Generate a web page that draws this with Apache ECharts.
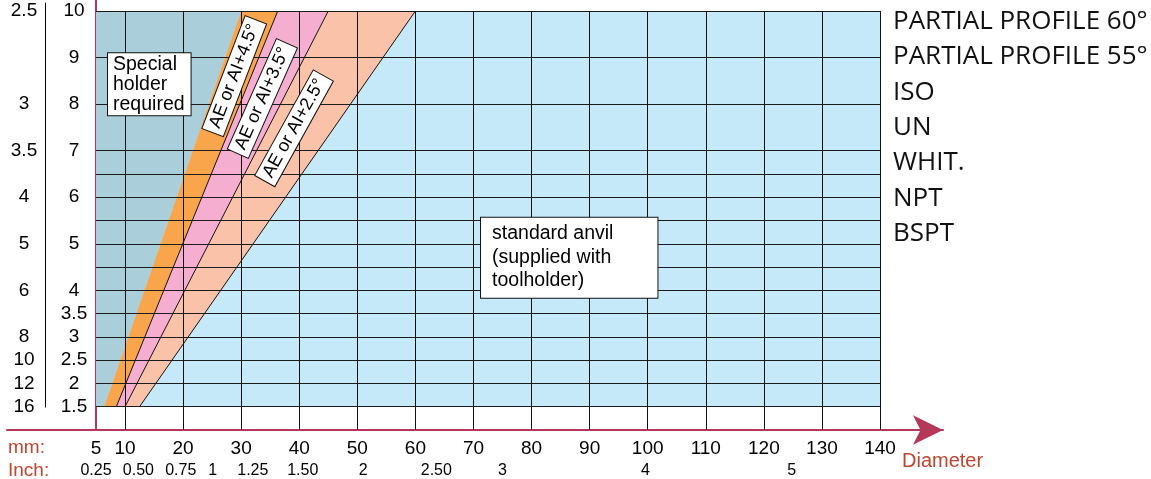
<!DOCTYPE html>
<html>
<head>
<meta charset="utf-8">
<script src="https://cdn.jsdelivr.net/npm/echarts@6/dist/echarts.min.js"></script>
<style>
html,body{margin:0;padding:0;background:#ffffff;}
#chart{width:1151px;height:479px;}
</style>
</head>
<body>
<div id="chart"></div>
<script>
// ---------------- data ----------------
const diameterSpan   = [5, 140];                 // mm, x extent of the chart
const pitchSpan      = [1.5, 10];                // mm pitch, y extent of the coloured field
const diameterGrid   = [10, 20, 30, 40, 50, 60, 70, 80, 90, 100, 110, 120, 130, 140];
const diameterLabels = [5, 10, 20, 30, 40, 50, 60, 70, 80, 90, 100, 110, 120, 130, 140];
const pitchGrid      = [1.5, 2, 2.5, 3, 3.5, 4, 4.5, 5, 5.5, 6, 6.5, 7, 8, 9, 10];
const pitchLabels    = [10, 9, 8, 7, 6, 5, 4, 3.5, 3, 2.5, 2, 1.5];
const tpiAt          = [10, 8, 7, 6, 5, 4, 3, 2.5, 2, 1.5];          // pitch value each TPI label sits on
const tpiLabels      = ['2.5', '3', '3.5', '4', '5', '6', '8', '10', '12', '16'];
const inchAt         = [5, 12.3, 19.6, 25.1, 32.0, 40.6, 51.0, 63.6, 75.0, 99.6, 124.8]; // mm value under each inch label
const inchLabels     = ['0.25', '0.50', '0.75', '1', '1.25', '1.50', '2', '2.50', '3', '4', '5'];
// boundary lines between zones: diameter (mm) at pitch 1.5 and at pitch 10
const boundaryAtBottom = [6.4, 8.5, 10, 12.5];
const boundaryAtTop    = [30, 36.3, 45, 60];
const zoneNames      = ['standard anvil', 'special holder', 'AE or AI+4.5°', 'AE or AI+3.5°', 'AE or AI+2.5°'];
const threadTypes    = ['PARTIAL PROFILE 60°', 'PARTIAL PROFILE 55°', 'ISO', 'UN', 'WHIT.', 'NPT', 'BSPT'];

// ---------------- styles / layout ----------------
const zoneColors = ['#c5e9f8', '#aacfdb', '#f9a54b', '#f5aed0', '#fbc2aa'];
const RED = '#b5385a';
const TXT_RED = '#c0452f';
const FONT = '"Liberation Sans", Arial, Helvetica, sans-serif';

// annotation anchors in data coordinates (layout)
const annotations = [
  { text: 'Special\nholder\nrequired', at: [7.07, 9.09], angle: 0, align: 'left', va: 'top',
    fontSize: 19.5, lineHeight: 20, padding: [1, 6, 1, 5] },
  { text: zoneNames[2], at: [28.8, 8.6], angle: 69, align: 'center', va: 'middle',
    fontSize: 18, lineHeight: 20, padding: [1, 5, 1, 5] },
  { text: zoneNames[3], at: [33.65, 8.12], angle: 66, align: 'center', va: 'middle',
    fontSize: 18, lineHeight: 20, padding: [1, 5, 1, 5] },
  { text: zoneNames[4], at: [39.1, 7.48], angle: 61, align: 'center', va: 'middle',
    fontSize: 18, lineHeight: 20, padding: [1, 5, 1, 5] },
  { text: 'standard anvil\n(supplied with\ntoolholder)', at: [71.3, 5.56], angle: 0, align: 'left', va: 'top',
    fontSize: 19.5, lineHeight: 23.7, padding: [4, 44, 5, 11] }
];

// ---------------- build zones from the data ----------------
const [dMin, dMax] = diameterSpan;
const [pMin, pMax] = pitchSpan;
const zones = [
  [[dMin, pMin], [dMax, pMin], [dMax, pMax], [dMin, pMax]],
  [[dMin, pMin], [boundaryAtBottom[0], pMin], [boundaryAtTop[0], pMax], [dMin, pMax]]
];
for (let i = 0; i < 3; i++) {
  zones.push([[boundaryAtBottom[i], pMin], [boundaryAtBottom[i + 1], pMin],
              [boundaryAtTop[i + 1], pMax], [boundaryAtTop[i], pMax]]);
}
const boundaryLines = [1, 2, 3].map(i => [[boundaryAtBottom[i], pMin], [boundaryAtTop[i], pMax]]);

const chart = echarts.init(document.getElementById('chart'), null, { renderer: 'canvas' });

const hidden = { show: false };
const mainGrid = { left: 96, right: 271, top: 11, bottom: 49, outerBoundsMode: 'none', containLabel: false };

const option = {
  backgroundColor: '#ffffff',
  animation: false,
  title: [
    { text: threadTypes.join('\n'), left: 893, top: 4, padding: 0,
      textStyle: { fontFamily: '"Open Sans", sans-serif', fontSize: 26, lineHeight: 35.3, fontWeight: 'normal', color: '#111111' } },
    { text: 'mm:', left: 8, top: 438, padding: 0,
      textStyle: { fontFamily: FONT, fontSize: 19, lineHeight: 19, fontWeight: 'normal', color: TXT_RED } },
    { text: 'Inch:', left: 8, top: 461, padding: 0,
      textStyle: { fontFamily: FONT, fontSize: 19, lineHeight: 19, fontWeight: 'normal', color: TXT_RED } },
    { text: 'Diameter', left: 902, top: 451, padding: 0,
      textStyle: { fontFamily: FONT, fontSize: 20, lineHeight: 20, fontWeight: 'normal', color: TXT_RED } }
  ],
  grid: [
    mainGrid,
    Object.assign({}, mainGrid),
    { left: 96, top: 0, bottom: 49, width: 10, outerBoundsMode: 'none' },      // red vertical axis line
    { left: 45, top: 3, bottom: 72, width: 10, outerBoundsMode: 'none' },      // thin separator between label columns
    { left: 7, right: 208, top: 0, bottom: 49, outerBoundsMode: 'none' }       // red diameter axis with arrow
  ],
  xAxis: [
    { gridIndex: 0, type: 'value', min: dMin, max: dMax, z: 5,
      axisLine: hidden,
      axisTick: { show: false, customValues: diameterGrid },
      splitLine: { show: true, lineStyle: { color: '#111111', width: 1 } },
      axisLabel: { customValues: diameterLabels, margin: 9, fontSize: 19, fontFamily: FONT, color: '#000' } },
    { gridIndex: 1, type: 'value', min: dMin, max: dMax,
      axisLine: hidden, axisTick: hidden, splitLine: hidden,
      axisLabel: { customValues: inchAt, margin: 33, fontSize: 16, fontFamily: FONT, color: '#000',
        formatter: v => inchLabels[inchAt.indexOf(v)] } },
    { gridIndex: 2, type: 'value', show: false },
    { gridIndex: 3, type: 'value', show: false },
    { gridIndex: 4, type: 'value', min: 0, max: 1,
      axisLine: { show: true, onZero: false, symbol: ['none', 'arrow'], symbolSize: [22, 30],
        lineStyle: { color: RED, width: 2 } },
      axisTick: hidden, axisLabel: hidden, splitLine: hidden }
  ],
  yAxis: [
    { gridIndex: 0, type: 'value', min: 1, max: pMax, z: 5,
      axisLine: hidden,
      axisTick: { show: false, customValues: pitchGrid },
      splitLine: { show: true, lineStyle: { color: '#1c1c1c', width: 1 } },
      axisLabel: { customValues: pitchLabels, margin: 22, align: 'center', fontSize: 19, fontFamily: FONT, color: '#000' } },
    { gridIndex: 1, type: 'value', min: 1, max: pMax,
      axisLine: hidden, axisTick: hidden, splitLine: hidden,
      axisLabel: { customValues: tpiAt, margin: 72, align: 'center', fontSize: 19, fontFamily: FONT, color: '#000',
        formatter: v => tpiLabels[tpiAt.indexOf(v)] } },
    { gridIndex: 2, type: 'value', min: 0, max: 1,
      axisLine: { show: true, onZero: false, lineStyle: { color: RED, width: 2 } },
      axisTick: hidden, axisLabel: hidden, splitLine: hidden },
    { gridIndex: 3, type: 'value', min: 0, max: 1,
      axisLine: { show: true, onZero: false, lineStyle: { color: '#000', width: 1 } },
      axisTick: hidden, axisLabel: hidden, splitLine: hidden },
    { gridIndex: 4, type: 'value', show: false }
  ],
  series: [
    { name: 'zones', type: 'custom', xAxisIndex: 0, yAxisIndex: 0, z: 2, silent: true,
      data: zones.map((z, i) => [i]),
      renderItem: (params, api) => ({
        type: 'polygon',
        shape: { points: zones[params.dataIndex].map(p => api.coord(p)) },
        style: { fill: zoneColors[params.dataIndex], stroke: null }
      }) },
    { name: 'boundaries', type: 'custom', xAxisIndex: 0, yAxisIndex: 0, z: 3, silent: true,
      data: boundaryLines.map((l, i) => [i]),
      renderItem: (params, api) => ({
        type: 'polyline',
        shape: { points: boundaryLines[params.dataIndex].map(p => api.coord(p)) },
        style: { stroke: '#111', lineWidth: 1, fill: null }
      }) },
    { name: 'labels', type: 'custom', xAxisIndex: 0, yAxisIndex: 0, z: 10, silent: true,
      data: annotations.map((a, i) => [i]),
      renderItem: (params, api) => {
        const a = annotations[params.dataIndex];
        const p = api.coord(a.at);
        return {
          type: 'text', x: p[0], y: p[1], rotation: a.angle * Math.PI / 180,
          style: {
            text: a.text, fill: '#000', fontSize: a.fontSize, fontFamily: FONT, lineHeight: a.lineHeight,
            align: a.align, verticalAlign: a.va,
            backgroundColor: '#ffffff', borderColor: '#111', borderWidth: 1, padding: a.padding
          }
        };
      } }
  ]
};
chart.setOption(option);
</script>
</body>
</html>
